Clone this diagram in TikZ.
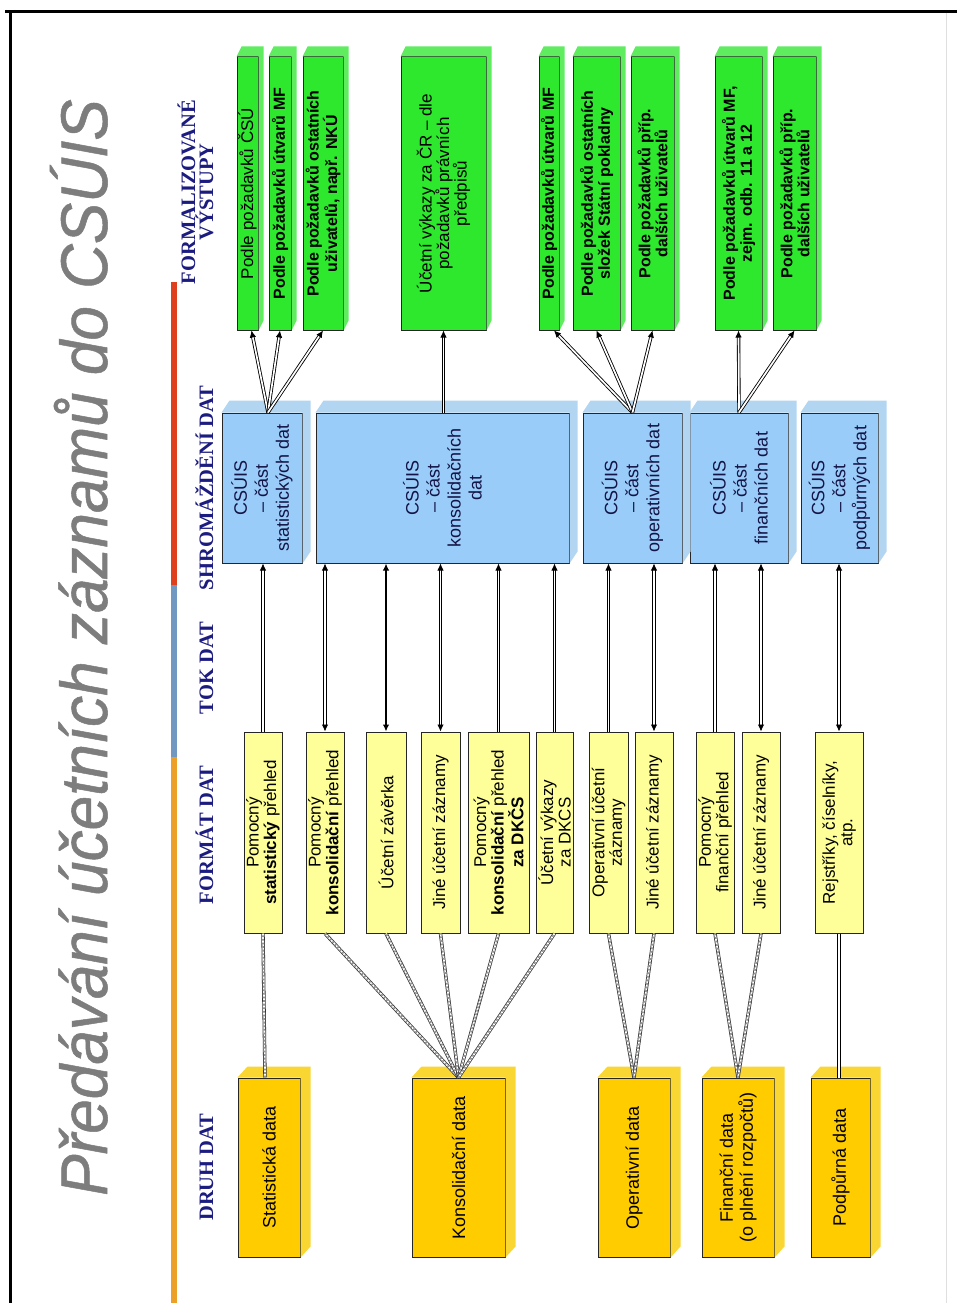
\documentclass[tikz,border=0pt]{standalone}
\usepackage{fontspec}
\setmainfont{Liberation Sans}
\newfontfamily\headfont{Liberation Serif}
\newfontfamily\titlefont[ItalicFeatures={FakeBold=0.8}]{Liberation Sans}
\usetikzlibrary{arrows.meta,calc,fit}

\definecolor{grnface}{RGB}{45,232,45}
\definecolor{grnside}{RGB}{95,236,95}
\definecolor{bluface}{RGB}{153,204,248}
\definecolor{bluside}{RGB}{178,214,242}
\definecolor{yelface}{RGB}{255,255,153}
\definecolor{orgface}{RGB}{255,204,0}
\definecolor{orgside}{RGB}{250,214,50}
\definecolor{hdrblue}{RGB}{28,28,128}
\definecolor{bluetext}{RGB}{20,20,70}
\definecolor{titlegray}{RGB}{125,125,125}
\definecolor{barorange}{RGB}{236,160,40}
\definecolor{barblue}{RGB}{112,152,192}
\definecolor{barred}{RGB}{222,64,30}

% 3D depth of a box: top and right faces
\newcommand\boxside[4]{\fill[#4] (#1.north west) -- ++(#2,#3) -- ($(#1.north east)+(#2,#3)$) -- ($(#1.south east)+(#2,#3)$) -- (#1.south east) -- (#1.north east) -- cycle;}
% box given by its corners
\newcommand\panel[6]{\node[#1, fit={(#3,#4) (#5,#6)}] (#2) {};}

\begin{document}
\begin{tikzpicture}[x=1pt,y=-1pt,
  gbox/.style={draw=black!85, line width=1pt, fill=grnface, inner sep=0pt},
  bbox/.style={draw=black!85, line width=1pt, fill=bluface, inner sep=0pt},
  ybox/.style={draw=black!85, line width=1pt, fill=yelface, inner sep=0pt},
  obox/.style={draw=black!85, line width=1pt, fill=orgface, inner sep=0pt},
  vtxt/.style={rotate=90, align=center, inner sep=0pt},
  gtxt/.style={vtxt, font=\fontsize{16}{17}\selectfont\bfseries},
  gtxtr/.style={vtxt, font=\fontsize{17}{17.5}\selectfont},
  btxt/.style={vtxt, text=bluetext, font=\fontsize{18}{21}\selectfont},
  ytxt/.style={vtxt, font=\fontsize{17}{17.5}\selectfont},
  otxt/.style={vtxt, font=\fontsize{18}{20}\selectfont},
  head/.style={rotate=90, align=center, inner sep=0pt, anchor=base, text=hdrblue,
    font=\headfont\fontsize{20.5}{18}\selectfont\bfseries},
  link/.style={draw=black, line width=0.85pt, double=white, double distance=1.7pt},
  fwd/.style={-{Latex[length=7pt,width=6.5pt]}},
  both/.style={{Latex[length=7pt,width=6.5pt]}-{Latex[length=7pt,width=6.5pt]}},
  stripe/.style={draw=black!80, line width=3.4pt,
    postaction={draw=white, line width=1.8pt},
    postaction={draw=gray!85, line width=1.8pt, dash pattern=on 1.8pt off 1.8pt}}
]
\useasboundingbox (0,0) rectangle (957,1303);
\fill[white] (0,0) rectangle (957,1303);

% page frame
\draw[line width=3pt] (5,11.5) -- (957,11.5);
\draw[line width=3pt] (10,11.5) -- (10,1303);
\draw[gray!25, line width=0.8pt] (946,13) -- (946,1303);

% title
\node[rotate=90, anchor=base west, inner sep=0pt, text=titlegray,
  font=\titlefont\fontsize{66}{70}\selectfont\itshape] (title) at (107,1196)
  {\scalebox{0.94}[1]{Předávání účetních záznamů do CSÚIS}};

% coloured bar
\fill[barred] (170.5,282) rectangle (176.5,585);
\fill[barblue] (170.5,585) rectangle (176.5,757);
\fill[barorange] (170.5,757) rectangle (176.5,1303);

% column headings
\node[head] (h1) at (213,1167) {DRUH DAT};
\node[head] (h2) at (213,835) {FORMÁT DAT};
\node[head] (h3) at (213,668) {TOK DAT};
\node[head] (h4) at (213,488) {SHROMÁŽDĚNÍ DAT};
\node[head] (h5) at (213,192) {FORMALIZOVANÉ\\VÝSTUPY};

% formalised outputs
\panel{gbox}{g1}{237}{57}{258}{330}
\panel{gbox}{g2}{269}{57}{291}{330}
\panel{gbox}{g3}{303}{57}{343}{330}
\panel{gbox}{g4}{401}{57}{486}{330}
\panel{gbox}{g5}{539}{57}{559}{330}
\panel{gbox}{g6}{573}{57}{620}{330}
\panel{gbox}{g7}{631}{57}{674}{330}
\panel{gbox}{g8}{715}{57}{762}{330}
\panel{gbox}{g9}{773}{57}{816}{330}
\foreach \b in {g1,g2,g3,g4,g5,g6,g7,g8,g9}{\boxside{\b}{5}{-10}{grnside}}
\node[gtxtr] (g1t) at (g1.center) {Podle požadavků ČSÚ};
\node[gtxt] (g2t) at (g2.center) {Podle požadavků útvarů MF};
\node[gtxt] (g3t) at (g3.center) {Podle požadavků ostatních\\uživatelů, např. NKÚ};
\node[gtxtr] (g4t) at (g4.center) {Účetní výkazy za ČR – dle\\požadavků právních\\předpisů};
\node[gtxt] (g5t) at (g5.center) {Podle požadavků útvarů MF};
\node[gtxt] (g6t) at (g6.center) {Podle požadavků ostatních\\složek Státní pokladny};
\node[gtxt] (g7t) at (g7.center) {Podle požadavků příp.\\dalších uživatelů};
\node[gtxt] (g8t) at (g8.center) {Podle požadavků útvarů MF,\\zejm. odb. 11 a 12};
\node[gtxt] (g9t) at (g9.center) {Podle požadavků příp.\\dalších uživatelů};

% data collection (CSÚIS parts)
\panel{bbox}{b1}{222}{413}{302}{563}
\panel{bbox}{b2}{316}{413}{569}{563}
\panel{bbox}{b3}{583}{413}{682}{563}
\panel{bbox}{b4}{690}{413}{788}{563}
\panel{bbox}{b5}{801}{413}{878}{563}
\foreach \b in {b1,b2,b3,b4,b5}{\boxside{\b}{8}{-12}{bluside}}
\node[btxt] (b1t) at (b1.center) {CSÚIS\\– část\\statistických dat};
\node[btxt] (b2t) at (b2.center) {CSÚIS\\– část\\konsolidačních\\dat};
\node[btxt] (b3t) at (b3.center) {CSÚIS\\– část\\operativních dat};
\node[btxt] (b4t) at (b4.center) {CSÚIS\\– část\\finančních dat};
\node[btxt] (b5t) at (b5.center) {CSÚIS\\– část\\podpůrných dat};

% data formats
\panel{ybox}{y1}{244}{732}{282}{933}
\panel{ybox}{y2}{306}{732}{344}{933}
\panel{ybox}{y3}{366}{732}{406}{933}
\panel{ybox}{y4}{421}{732}{460}{933}
\panel{ybox}{y5}{468}{732}{529}{933}
\panel{ybox}{y6}{536}{732}{573}{933}
\panel{ybox}{y7}{589}{732}{628}{933}
\panel{ybox}{y8}{635}{732}{673}{933}
\panel{ybox}{y9}{696}{732}{734}{933}
\panel{ybox}{y10}{742}{732}{780}{933}
\panel{ybox}{y11}{815}{732}{863}{933}
\node[ytxt] (y1t) at (y1.center) {Pomocný\\\textbf{statistický} přehled};
\node[ytxt] (y2t) at (y2.center) {Pomocný\\\textbf{konsolidační} přehled};
\node[ytxt] (y3t) at (y3.center) {Účetní závěrka};
\node[ytxt] (y4t) at (y4.center) {Jiné účetní záznamy};
\node[ytxt] (y5t) at (y5.center) {Pomocný\\\textbf{konsolidační} přehled\\\textbf{za DKČS}};
\node[ytxt] (y6t) at (y6.center) {Účetní výkazy\\za DKCS};
\node[ytxt] (y7t) at (y7.center) {Operativní účetní\\záznamy};
\node[ytxt] (y8t) at (y8.center) {Jiné účetní záznamy};
\node[ytxt] (y9t) at (y9.center) {Pomocný\\finanční přehled};
\node[ytxt] (y10t) at (y10.center) {Jiné účetní záznamy};
\node[ytxt] (y11t) at (y11.center) {Rejstříky, číselníky,\\atp.};

% kinds of data
\panel{obox}{o1}{238}{1078}{300}{1257}
\panel{obox}{o2}{412}{1078}{505}{1257}
\panel{obox}{o3}{598}{1078}{670}{1257}
\panel{obox}{o4}{702}{1078}{774}{1257}
\panel{obox}{o5}{811}{1078}{870}{1257}
\foreach \b in {o1,o2,o3,o4,o5}{\boxside{\b}{10}{-11}{orgside}}
\node[otxt] (o1t) at (o1.center) {Statistická data};
\node[otxt] (o2t) at (o2.center) {Konsolidační data};
\node[otxt] (o3t) at (o3.center) {Operativní data};
\node[otxt] (o4t) at (o4.center) {Finanční data\\(o plnění rozpočtů)};
\node[otxt] (o5t) at (o5.center) {Podpůrná data};

% kinds of data -> formats
\coordinate (o1h) at ($(o1.north)+(-4,0)$);
\draw[stripe] (o1h) -- (y1.south);
\foreach \y in {y2,y3,y4,y5,y6}{\draw[stripe] (o2.north) -- (\y.south);}
\foreach \y in {y7,y8}{\draw[stripe] (o3.north) -- (\y.south);}
\foreach \y in {y9,y10}{\draw[stripe] (o4.north) -- (\y.south);}
\draw[link] (y11.south) -- (y11.south |- o5.north);

% formats -> collection
\draw[link,fwd] (y1.north) -- (y1.north |- b1.south);
\draw[link,both] (y2.north) -- (y2.north |- b2.south);
\draw[line width=2.6pt,both] (y3.north) -- (y3.north |- b2.south);
\draw[link,both] (y4.north) -- (y4.north |- b2.south);
\draw[link,fwd] (y5.north) -- (y5.north |- b2.south);
\draw[link,fwd] (y6.north) -- (y6.north |- b2.south);
\draw[link,fwd] (y7.north) -- (y7.north |- b3.south);
\draw[link,both] (y8.north) -- (y8.north |- b3.south);
\draw[link,fwd] (y9.north) -- (y9.north |- b4.south);
\draw[link,both] (y10.north) -- (y10.north |- b4.south);
\draw[link,both] (y11.north) -- (y11.north |- b5.south);

% collection -> outputs
\coordinate (b1h) at ($(b1.north)+(6,0)$);
\draw[link,fwd] (b1h) -- ($(g1.south)+(4,0)$);
\draw[link,fwd] (b1h) -- (g2.south);
\draw[link,fwd] (b1h) -- (g3.south);
\draw[link,fwd] (g4.south |- b2.north) -- (g4.south);
\draw[link,fwd] (b3.north) -- ($(g5.south)+(5,0)$);
\draw[link,fwd] (b3.north) -- (g6.south);
\draw[link,fwd] (b3.north) -- (g7.south);
\draw[link,fwd] (b4.north) -- (g8.south);
\draw[link,fwd] (b4.north) -- (g9.south);
\end{tikzpicture}
\end{document}
